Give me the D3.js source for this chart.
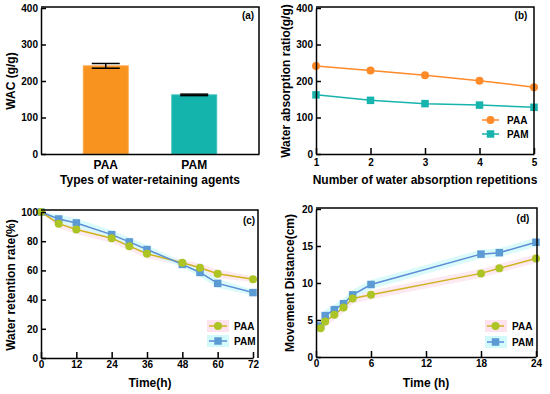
<!DOCTYPE html>
<html><head><meta charset="utf-8">
<script src="https://cdn.jsdelivr.net/npm/d3@7"></script>
<style>
body{margin:0;background:#fff;}
svg text{font-family:"Liberation Sans",Arial,sans-serif;font-weight:bold;fill:#000;}
</style></head>
<body><svg id="c" width="550" height="394"></svg>
<script>
// ---------- data ----------
const agents = ["PAA", "PAM"];
const wacValues = [241.5, 162];
const wacErrors = [6.5, 2];

const repetitions = [1, 2, 3, 4, 5];
const ratioPAA = [241, 229, 216, 201, 183];
const ratioPAM = [162, 147, 138, 134, 128];

const retentionTime = [0, 6, 12, 24, 30, 36, 48, 54, 60, 72];
const retentionPAA = [100, 92, 88, 82, 76.6, 71.4, 65.2, 61.8, 57.7, 54];
const retentionPAM = [100, 95.2, 92.5, 84.5, 79.5, 74.3, 64.1, 58.6, 51.1, 44.8];
const retentionBand = [0, 3, 3, 3, 3, 3, 2, 3, 3, 2];

const moveTime = [0.5, 1, 2, 3, 4, 6, 18, 20, 24];
const movePAA = [3.9, 4.8, 5.7, 6.7, 7.9, 8.4, 11.3, 12.0, 13.3];
const movePAM = [4.2, 5.6, 6.4, 7.2, 8.4, 9.8, 13.9, 14.1, 15.5];
const moveBand = [0.7, 0.8, 0.7, 0.7, 0.7, 0.6, 0.6, 0.6, 0.6];

const ticksA = [0, 100, 200, 300, 400];
const ticksB = [0, 100, 200, 300, 400];
const ticksC = [0, 20, 40, 60, 80, 100];
const ticksCx = [0, 12, 24, 36, 48, 60, 72];
const ticksD = [0, 5, 10, 15, 20];
const ticksDx = [0, 6, 12, 18, 24];

// ---------- styles ----------
const cOrange = "#f7931e", cTeal = "#14b4ac";
const cLineB1 = "#ff8a2a", cLineB2 = "#17b3ad";
const cGoldLine = "#d0b21e", cGoldMark = "#acc424";
const cBlueLine = "#5a8dd6", cBlueMark = "#5c9ad4";
const cPink = "#fde3ee", cCyan = "#d2fafa";

const svg = d3.select("#c");
const fmt = d3.format("d");

function frame(g, x0, x1, ytop, y0) {
  g.append("path").attr("d", `M${x0},${ytop}H${x1}V${y0}`).attr("fill","none").attr("stroke","#000").attr("stroke-width",1.5);
}
function yAxis(x, y, ticks) {
  return svg.append("g").attr("transform", `translate(${x},0)`)
    .call(d3.axisLeft(y).tickValues(ticks).tickFormat(fmt).tickSizeInner(-5).tickSizeOuter(0).tickPadding(3))
    .call(g => { g.selectAll("path").attr("stroke-width",1.5); g.selectAll("line").attr("stroke-width",1.5);
                 g.selectAll("text").attr("font-size",10).attr("font-family",null); });
}
function xAxis(yPos, x, ticks, pad) {
  return svg.append("g").attr("transform", `translate(0,${yPos})`)
    .call(d3.axisBottom(x).tickValues(ticks).tickFormat(fmt).tickSizeInner(-6).tickSizeOuter(0).tickPadding(pad))
    .call(g => { g.selectAll("path").attr("stroke-width",1.5); g.selectAll("line").attr("stroke-width",1.5);
                 g.selectAll("text").attr("font-size",10).attr("font-family",null); });
}
function yTitle(text, x, yc) {
  svg.append("text").attr("transform", `translate(${x},${yc}) rotate(-90)`).attr("text-anchor","middle").attr("font-size",12).text(text);
}
function xTitle(text, xc, y) {
  svg.append("text").attr("x", xc).attr("y", y).attr("text-anchor","middle").attr("font-size",12).text(text);
}
function panelLabel(t, x, y) {
  svg.append("text").attr("x", x).attr("y", y).attr("text-anchor","middle").attr("font-size",10).text(t);
}
function square(g, cx, cy, s, fill) {
  g.append("rect").attr("x", cx - s/2).attr("y", cy - s/2).attr("width", s).attr("height", s).attr("fill", fill);
}

// ---------- (a) ----------
{
  const x = d3.scaleBand().domain(agents).range([41, 259]).paddingInner(0.492).paddingOuter(0.478);
  const y = d3.scaleLinear().domain([0, 400]).range([154, 8]);
  const g = svg.append("g");
  g.selectAll("rect.bar").data(agents).join("rect")
    .attr("x", d => x(d)).attr("width", x.bandwidth())
    .attr("y", (d,i) => y(wacValues[i])).attr("height", (d,i) => y(0) - y(wacValues[i]))
    .attr("fill", (d,i) => i === 0 ? cOrange : cTeal)
    .attr("stroke", (d,i) => i === 0 ? "#fba84f" : "#3cc2bb").attr("stroke-width", 1);
  agents.forEach((d,i) => {
    const cx = x(d) + x.bandwidth()/2;
    const hi = y(wacValues[i] + wacErrors[i]), lo = y(wacValues[i] - wacErrors[i]);
    g.append("line").attr("x1",cx).attr("x2",cx).attr("y1",hi).attr("y2",lo).attr("stroke","#000").attr("stroke-width",1.5);
    g.append("line").attr("x1",cx-14).attr("x2",cx+14).attr("y1",hi).attr("y2",hi).attr("stroke","#000").attr("stroke-width",1.5);
    g.append("line").attr("x1",cx-14).attr("x2",cx+14).attr("y1",lo).attr("y2",lo).attr("stroke","#000").attr("stroke-width",1.5);
  });
  frame(svg, 41, 259, 7, 154);
  yAxis(41, y, ticksA);
  svg.append("g").attr("transform","translate(0,154)")
    .call(d3.axisBottom(x).tickSize(0).tickPadding(6))
    .call(g => { g.select("path").attr("stroke-width",1.5); g.selectAll("text").attr("font-size",12).attr("font-family",null); });
  yTitle("WAC (g/g)", 15, 81);
  xTitle("Types of water-retaining agents", 150, 184);
  panelLabel("(a)", 248, 19);
}

// ---------- (b) ----------
{
  const x = d3.scaleLinear().domain([1, 5]).range([316, 534]);
  const y = d3.scaleLinear().domain([0, 400]).range([154, 8]);
  const g = svg.append("g");
  const line = d3.line().x((d,i) => x(repetitions[i])).y(d => y(d));
  g.append("path").datum(ratioPAA).attr("d", line).attr("fill","none").attr("stroke",cLineB1).attr("stroke-width",1.5);
  g.append("path").datum(ratioPAM).attr("d", line).attr("fill","none").attr("stroke",cLineB2).attr("stroke-width",1.5);
  ratioPAA.forEach((v,i) => g.append("circle").attr("cx", x(repetitions[i])).attr("cy", y(v)).attr("r", 4).attr("fill", cLineB1));
  ratioPAM.forEach((v,i) => square(g, x(repetitions[i]), y(v), 7.5, cLineB2));
  frame(svg, 316, 534, 7, 154);
  yAxis(316, y, ticksB);
  xAxis(154, x, repetitions, 5);
  // legend
  g.append("line").attr("x1",482).attr("x2",499).attr("y1",120).attr("y2",120).attr("stroke",cLineB1).attr("stroke-width",1.5);
  g.append("circle").attr("cx",490.5).attr("cy",120).attr("r",4).attr("fill",cLineB1);
  g.append("line").attr("x1",482).attr("x2",499).attr("y1",134).attr("y2",134).attr("stroke",cLineB2).attr("stroke-width",1.5);
  square(g, 490.5, 134, 7.5, cLineB2);
  g.append("text").attr("x",507).attr("y",123.5).attr("font-size",10).text("PAA");
  g.append("text").attr("x",507).attr("y",137.5).attr("font-size",10).text("PAM");
  yTitle("Water absorption ratio(g/g)", 290, 81);
  xTitle("Number of water absorption repetitions", 425, 184);
  panelLabel("(b)", 521, 19);
}

// ---------- (c) ----------
{
  const x = d3.scaleLinear().domain([0, 72]).range([41, 253]);
  const y = d3.scaleLinear().domain([0, 100]).range([358, 212]);
  const g = svg.append("g");
  const band = (vals) => d3.area().x((d,i) => x(retentionTime[i])).y0((d,i) => y(vals[i] - retentionBand[i])).y1((d,i) => y(vals[i] + retentionBand[i]));
  g.append("path").datum(retentionPAA).attr("d", band(retentionPAA)).attr("fill", cPink).attr("opacity",0.8);
  g.append("path").datum(retentionPAM).attr("d", band(retentionPAM)).attr("fill", cCyan).attr("opacity",0.8);
  const line = d3.line().x((d,i) => x(retentionTime[i])).y(d => y(d));
  g.append("path").datum(retentionPAA).attr("d", line).attr("fill","none").attr("stroke",cGoldLine).attr("stroke-width",1.5);
  g.append("path").datum(retentionPAM).attr("d", line).attr("fill","none").attr("stroke",cBlueLine).attr("stroke-width",1.5);
  retentionPAM.forEach((v,i) => square(g, x(retentionTime[i]), y(v), 7.5, cBlueMark));
  retentionPAA.forEach((v,i) => g.append("circle").attr("cx", x(retentionTime[i])).attr("cy", y(v)).attr("r", 4).attr("fill", cGoldMark));
  frame(svg, 41, 258, 210, 358);
  yAxis(41, y, ticksC);
  xAxis(358, x, ticksCx, 3);
  // legend
  g.append("rect").attr("x",207).attr("y",320).attr("width",22).attr("height",12).attr("fill",cPink);
  g.append("rect").attr("x",207).attr("y",335).attr("width",22).attr("height",12).attr("fill",cCyan);
  g.append("line").attr("x1",209).attr("x2",227).attr("y1",326).attr("y2",326).attr("stroke",cGoldLine).attr("stroke-width",1.5);
  g.append("circle").attr("cx",218).attr("cy",326).attr("r",4).attr("fill",cGoldMark);
  g.append("line").attr("x1",209).attr("x2",227).attr("y1",341).attr("y2",341).attr("stroke",cBlueLine).attr("stroke-width",1.5);
  square(g, 218, 341, 7.5, cBlueMark);
  g.append("text").attr("x",234).attr("y",329.5).attr("font-size",10).text("PAA");
  g.append("text").attr("x",234).attr("y",344.5).attr("font-size",10).text("PAM");
  yTitle("Water retention rate(%)", 15, 285);
  xTitle("Time(h)", 150, 387);
  panelLabel("(c)", 249, 224);
}

// ---------- (d) ----------
{
  const x = d3.scaleLinear().domain([0, 24]).range([316, 536]);
  const y = d3.scaleLinear().domain([0, 20]).range([357, 209]);
  const g = svg.append("g");
  const band = (vals) => d3.area().x((d,i) => x(moveTime[i])).y0((d,i) => y(vals[i] - moveBand[i])).y1((d,i) => y(vals[i] + moveBand[i]));
  g.append("path").datum(movePAA).attr("d", band(movePAA)).attr("fill", cPink).attr("opacity",0.8);
  g.append("path").datum(movePAM).attr("d", band(movePAM)).attr("fill", cCyan).attr("opacity",0.8);
  const line = d3.line().x((d,i) => x(moveTime[i])).y(d => y(d));
  g.append("path").datum(movePAA).attr("d", line).attr("fill","none").attr("stroke",cGoldLine).attr("stroke-width",1.5);
  g.append("path").datum(movePAM).attr("d", line).attr("fill","none").attr("stroke",cBlueLine).attr("stroke-width",1.5);
  movePAM.forEach((v,i) => square(g, x(moveTime[i]), y(v), 7.5, cBlueMark));
  movePAA.forEach((v,i) => g.append("circle").attr("cx", x(moveTime[i])).attr("cy", y(v)).attr("r", 4).attr("fill", cGoldMark));
  frame(svg, 316, 537, 208, 357);
  yAxis(316, y, ticksD);
  xAxis(357, x, ticksDx, 3);
  // legend
  g.append("rect").attr("x",485).attr("y",320).attr("width",22).attr("height",12).attr("fill",cPink);
  g.append("rect").attr("x",485).attr("y",336).attr("width",22).attr("height",12).attr("fill",cCyan);
  g.append("line").attr("x1",487).attr("x2",504).attr("y1",326).attr("y2",326).attr("stroke",cGoldLine).attr("stroke-width",1.5);
  g.append("circle").attr("cx",495.5).attr("cy",326).attr("r",4).attr("fill",cGoldMark);
  g.append("line").attr("x1",487).attr("x2",504).attr("y1",342).attr("y2",342).attr("stroke",cBlueLine).attr("stroke-width",1.5);
  square(g, 495.5, 342, 7.5, cBlueMark);
  g.append("text").attr("x",512).attr("y",329.5).attr("font-size",10).text("PAA");
  g.append("text").attr("x",512).attr("y",345.5).attr("font-size",10).text("PAM");
  yTitle("Movement Distance(cm)", 294, 283);
  xTitle("Time (h)", 426, 387);
  panelLabel("(d)", 523, 222);
}
</script></body></html>
